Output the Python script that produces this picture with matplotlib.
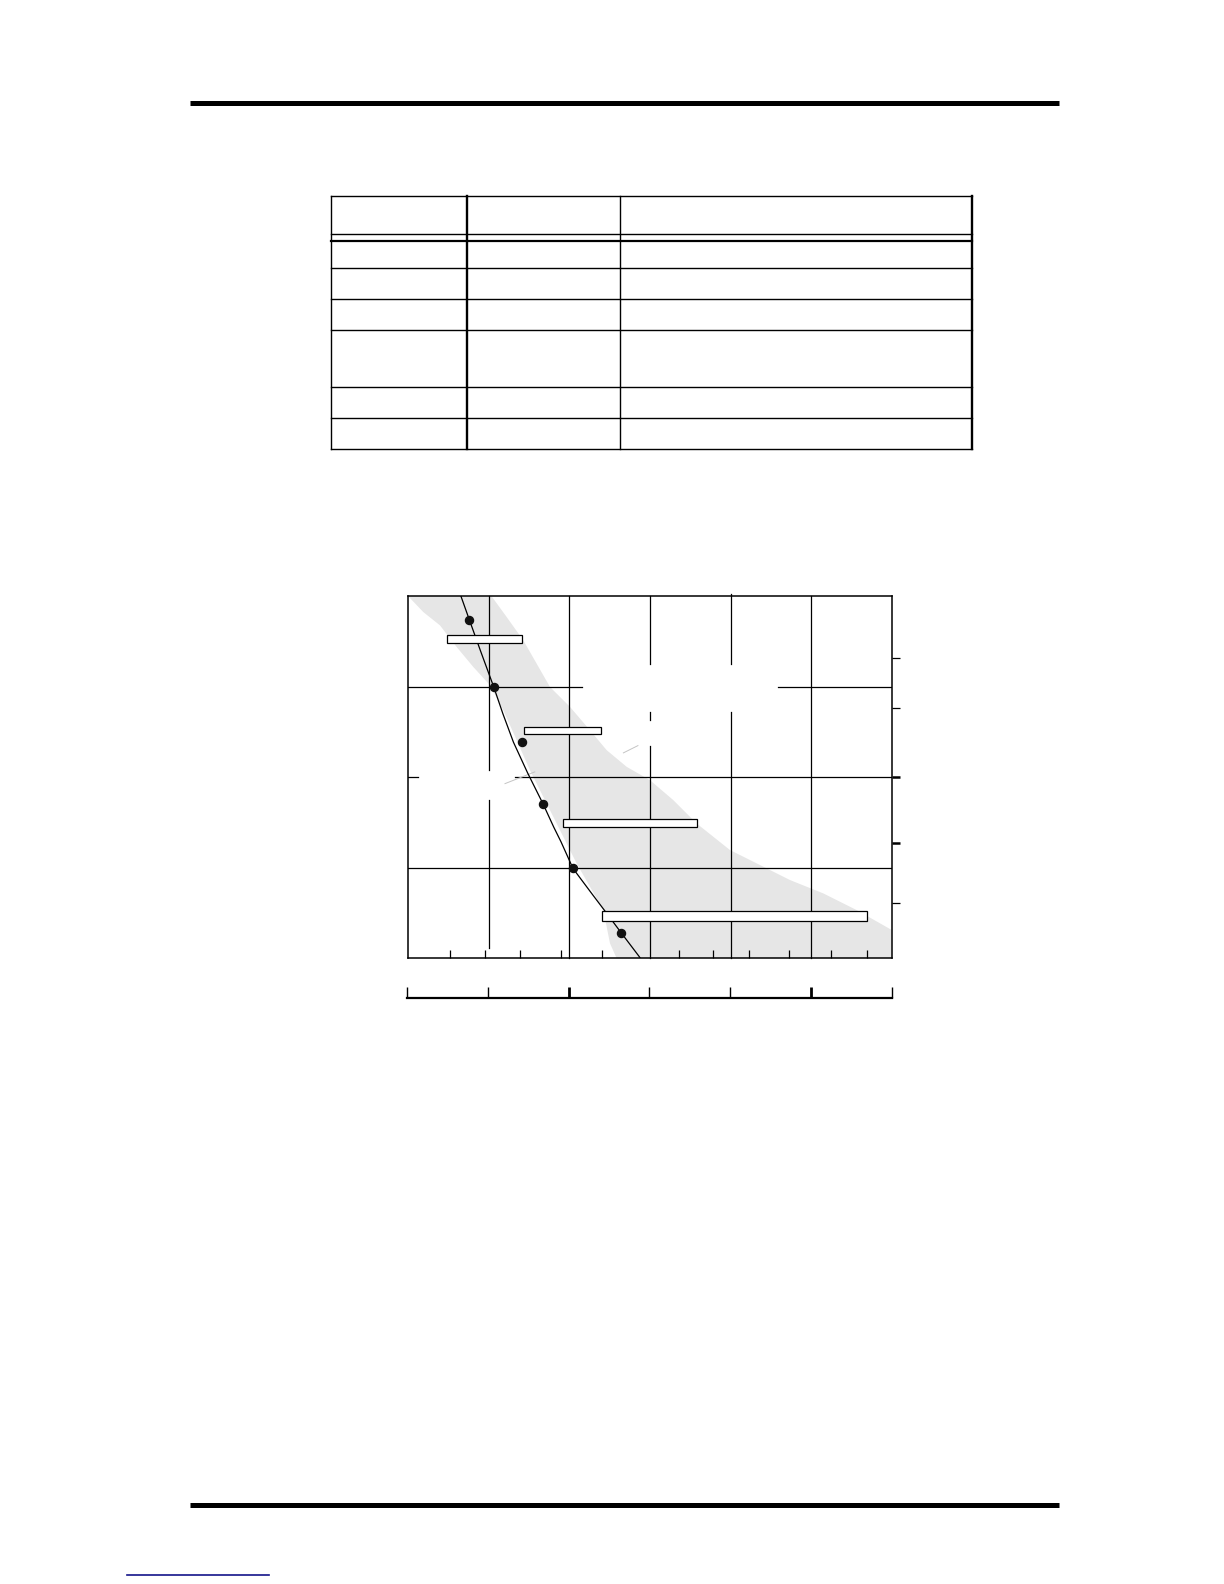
import matplotlib
matplotlib.use("Agg")
import matplotlib.pyplot as plt

# ---- data (axis units: x 0..6, y 0..4) ----
curve_x = [0.654, 0.757, 0.895, 1.059, 1.175, 1.305, 1.480, 1.672,
           1.805, 1.895, 2.044, 2.290, 2.460, 2.644, 2.867, 2.880]
curve_y = [4.0, 3.742, 3.400, 3.002, 2.700, 2.388, 2.050, 1.707,
           1.450, 1.288, 0.993, 0.700, 0.500, 0.280, 0.018, 0.0]

dot_x = [0.757, 1.059, 1.415, 1.672, 2.044, 2.644]
dot_y = [3.742, 3.002, 2.388, 1.707, 0.993, 0.280]

bar_lo = [0.476, 1.440, 1.924, 2.408]
bar_hi = [1.415, 2.396, 3.587, 5.697]
bar_y = [3.532, 2.517, 1.490, 0.464]
bar_h = [0.088, 0.088, 0.088, 0.11]

band_lo_x = [0.0, 0.186, 0.393, 0.600, 0.807, 1.014, 1.179, 1.345, 1.510,
             1.717, 1.924, 2.089, 2.255, 2.420, 2.462, 2.503, 2.586]
band_lo_y = [4.0, 3.826, 3.679, 3.440, 3.219, 3.017, 2.741, 2.410, 2.079,
             1.711, 1.343, 1.049, 0.791, 0.533, 0.350, 0.166, 0.0]
band_hi_x = [6.0, 6.0, 5.565, 5.151, 4.737, 4.324, 3.993, 3.579, 3.289,
             3.0, 2.710, 2.462, 2.255, 2.007, 1.758, 1.593, 1.427, 1.221, 1.034]
band_hi_y = [0.0, 0.313, 0.533, 0.717, 0.865, 1.049, 1.196, 1.490, 1.748,
             1.968, 2.116, 2.300, 2.520, 2.778, 2.999, 3.256, 3.514, 3.771, 4.0]

bottom_ticks = [0.521, 0.947, 1.390, 1.891, 2.408, 3.364, 3.777, 4.233,
                4.729, 5.242, 5.697]
right_ticks_major = [1.998, 1.277]
right_ticks_minor = [3.322, 2.763, 0.614]
scale_ticks_major = [2, 5]
scale_ticks_minor = [0, 1, 3, 4, 6]

# grid lines with the gaps left where labels used to sit
vgrid = {1: [(2.079, 4.0), (0.11, 1.748)],
         2: [(0.0, 4.0)],
         3: [(2.351, 0.0), (2.638, 2.719), (3.249, 4.0)],
         4: [(0.0, 2.719), (3.249, 4.03)],
         5: [(0.0, 4.0)]}
hgrid = {1: [(0.0, 6.0)],
         2: [(0.0, 0.124), (1.324, 6.0)],
         3: [(0.0, 2.152), (4.593, 6.0)]}

# page layout (pixels)
table_x = [331, 466.7, 620.2, 971.7]
table_y = [196, 234, 241, 268.3, 299.3, 330.3, 387.3, 418.3, 449.3]

W, H = 1224, 1584
fig = plt.figure(figsize=(W / 100, H / 100), dpi=100)

# page furniture
page = fig.add_axes([0, 0, 1, 1])
page.set_xlim(0, W)
page.set_ylim(H, 0)
page.axis("off")
page.plot([190, 1059], [102.5, 102.5], color="black", lw=3.6, solid_capstyle="butt")
page.plot([190, 1059], [1504.5, 1504.5], color="black", lw=3.6, solid_capstyle="butt")
page.plot([127, 269], [1575, 1575], color="#14148a", lw=1.2)

# table frame
for i, yy in enumerate(table_y):
    lw = 1.6 if i == 2 else 1.0
    page.plot([table_x[0], table_x[-1]], [yy, yy], color="black", lw=lw,
              solid_capstyle="projecting")
for i, xx in enumerate(table_x):
    lw = 1.7 if i in (1, 3) else 1.0
    page.plot([xx, xx], [table_y[0], table_y[-1]], color="black", lw=lw,
              solid_capstyle="projecting")

# chart
ax = fig.add_axes([408.3 / W, 1 - 958.3 / H, 483.4 / W, 362 / H])
ax.set_xlim(0, 6)
ax.set_ylim(0, 4)

band_x = band_lo_x + band_hi_x
band_y = band_lo_y + band_hi_y
ax.fill(band_x, band_y, color="#e6e6e6", lw=0, zorder=1)

for gx, segs in vgrid.items():
    for a, b in segs:
        ax.plot([gx, gx], [a, b], color="black", lw=0.9, zorder=2, clip_on=False)
for gy, segs in hgrid.items():
    for a, b in segs:
        ax.plot([a, b], [gy, gy], color="black", lw=0.9, zorder=2)

# faint leftover leader strokes
ax.plot([1.20, 1.57], [1.93, 2.06], color="#c4c4c4", lw=0.7, zorder=2)
ax.plot([2.67, 2.85], [2.27, 2.35], color="#c4c4c4", lw=0.7, zorder=2)

ax.plot(curve_x, curve_y, color="black", lw=0.9, zorder=3)

widths = [h - l for l, h in zip(bar_lo, bar_hi)]
ax.barh(bar_y, widths, height=bar_h, left=bar_lo, color="white",
        edgecolor="black", linewidth=0.9, zorder=4)

ax.plot(dot_x, dot_y, "o", color="#111111", ms=5.8, zorder=5)

for s in ax.spines.values():
    s.set_linewidth(1.1)
ax.set_xticks(bottom_ticks)
ax.set_xticklabels([])
ax.tick_params(axis="x", direction="in", length=6, width=0.9)
ax.yaxis.tick_right()
ax.set_yticks(right_ticks_major)
ax.set_yticks(right_ticks_minor, minor=True)
ax.set_yticklabels([])
ax.tick_params(axis="y", which="major", direction="out", length=6, width=1.8)
ax.tick_params(axis="y", which="minor", direction="out", length=6, width=0.9)

# separate scale bar below the chart
ax2 = fig.add_axes([407.3 / W, 1 - 997.7 / H, 484.4 / W, 0.01])
ax2.set_xlim(0, 6)
ax2.patch.set_alpha(0)
for side in ("top", "left", "right"):
    ax2.spines[side].set_visible(False)
ax2.spines["bottom"].set_linewidth(1.6)
ax2.set_yticks([])
ax2.set_xticks(scale_ticks_major)
ax2.set_xticks(scale_ticks_minor, minor=True)
ax2.set_xticklabels([])
ax2.tick_params(axis="x", which="major", direction="in", length=8, width=2.0)
ax2.tick_params(axis="x", which="minor", direction="in", length=8, width=1.0)

fig.savefig("out.png", dpi=100, facecolor="white")
